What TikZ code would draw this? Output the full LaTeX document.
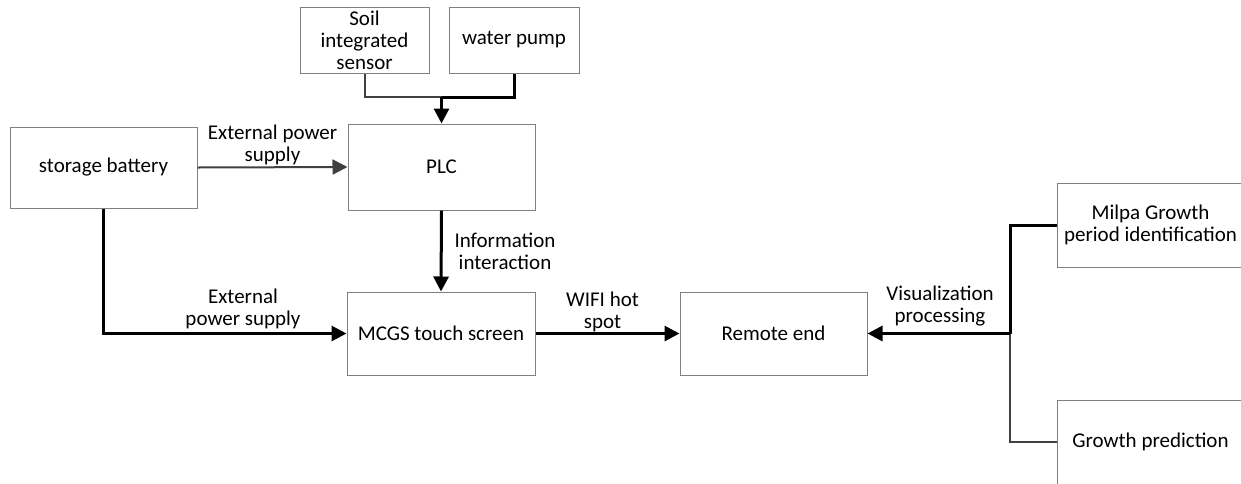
\documentclass[tikz,border=0pt]{standalone}
\usepackage{fontspec}
\setmainfont{Carlito}
\usetikzlibrary{arrows.meta}
\begin{document}
\begin{tikzpicture}[x=0.5pt,y=-0.5pt,
  txt/.style={font=\fontsize{10.5}{11}\selectfont},
  box/.style={txt, draw=black!50, line width=0.5pt, inner sep=0pt, align=center},
  lbl/.style={txt, align=center, inner sep=0pt},
  link/.style={line width=1.5pt, black},
  greylink/.style={line width=1pt, black!75},
  tip/.style={-{Triangle[length=7.5pt,width=7.5pt]}},
  arr/.style={link, tip},
  greyarr/.style={greylink, tip}]
\useasboundingbox (0,0) rectangle (1241,483);
\clip (0,0) rectangle (1241,483);

% field devices
\node[box, minimum width=64.5pt, minimum height=33pt] (soil) at (364.5,40) {Soil\\integrated\\sensor};
\node[box, minimum width=65pt, minimum height=33pt] (pump) at (514,40) {water pump};

% control side
\node[box, minimum width=93.5pt, minimum height=43pt] (plc) at (441.5,167) {PLC};
\node[box, minimum width=93.5pt, minimum height=40.5pt] (bat) at (103.5,167.5) {storage battery};
\node[box, minimum width=94pt, minimum height=41.5pt] (mcgs) at (441,333.5) {MCGS touch screen};
\node[box, minimum width=93.5pt, minimum height=41.5pt] (rem) at (773.5,333.5) {Remote end};

% analysis modules
\node[box, minimum width=93.5pt, minimum height=42pt] (milpa) at (1150.5,225) {Milpa Growth\\period identification};
\node[box, minimum width=93.5pt, minimum height=42pt] (grow) at (1150.5,442) {Growth prediction};

% junction points
\coordinate (j) at (441.5,97);
\coordinate (b) at (1010,333.5);

% sensor and pump into PLC
\draw[greylink] (soil.south) |- (j);
\draw[link] (j) -| (pump.south);
\draw[arr] (j) -- (plc.north);

% power supply
\draw[greyarr] (bat.east) -- (plc.west);
\draw[arr] (bat.south) |- (mcgs.west);

% data flow
\draw[arr] (plc.south) -- (mcgs.north);
\draw[arr] (mcgs.east) -- (rem.west);

% remote analysis branch
\draw[link] (milpa.west) -| (b);
\draw[greylink] (grow.west) -| (b);
\draw[arr] (b) -- (rem.east);

% connector labels
\node[lbl] (l1) at (272.5,145) {External power\\supply};
\node[lbl] (l2) at (243,309) {External\\power supply};
\node[lbl] (l3) at (505,251) {Information\\interaction};
\node[lbl] (l4) at (602.5,312) {WIFI hot\\spot};
\node[lbl] (l5) at (940,306.5) {Visualization\\processing};
\end{tikzpicture}
\end{document}
